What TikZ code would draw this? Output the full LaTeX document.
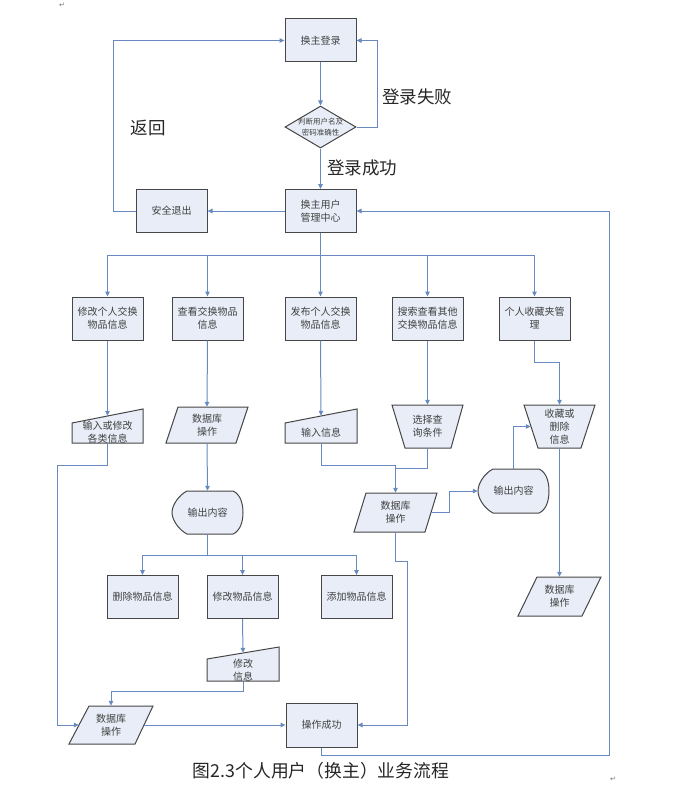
\documentclass[tikz,border=0pt]{standalone}
\usepackage{fontspec}
\newfontfamily\cjk{Noto Sans CJK SC}
\newfontfamily\symfont{DejaVu Sans}
\usetikzlibrary{arrows.meta,calc,shapes.geometric}
\definecolor{boxfill}{RGB}{232,237,247}
\definecolor{boxline}{RGB}{70,70,70}
\definecolor{conn}{RGB}{104,138,192}
\definecolor{txt}{RGB}{65,65,65}
\begin{document}
\begin{tikzpicture}[x=1pt,y=-1pt,
  boxst/.style={draw=boxline, fill=boxfill, line width=1pt, minimum width=71pt, minimum height=43pt, inner sep=1pt, align=center, font=\cjk\fontsize{10}{13}\selectfont, text=txt},
  ghost/.style={inner sep=0pt, minimum width=#1},
  shapetext/.style={inner sep=0pt, align=center, font=\cjk\fontsize{10}{13}\selectfont, text=txt},
  outline/.style={draw=boxline, fill=boxfill, line width=1pt, line join=miter},
  link/.style={draw=conn, line width=1pt},
  arr/.style={link, -{Triangle[length=5pt,width=4.5pt]}},
  biglabel/.style={font=\cjk\fontsize{17.5}{20}\selectfont, text=black!85},
  pmark/.style={font=\symfont\fontsize{7}{8}\selectfont, text=black!55}
]
\useasboundingbox (0,0) rectangle (694,797);

% ---------- outlines of special shapes ----------
% manual inputs
\draw[outline] (72,423) -- (143,409) -- (143,443) -- (72,443) -- cycle;
\draw[outline] (285,423) -- (357,409) -- (357,443) -- (285,443) -- cycle;
\draw[outline] (207,659) -- (279,647) -- (279,681) -- (207,681) -- cycle;
% parallelograms
\draw[outline] (178,407) -- (248,407) -- (236,443) -- (166,443) -- cycle;
\draw[outline] (366,493) -- (437,493) -- (425,532) -- (354,532) -- cycle;
\draw[outline] (537,577) -- (601,577) -- (582,616) -- (518,616) -- cycle;
\draw[outline] (89,706) -- (153,706) -- (135,744) -- (69,744) -- cycle;
% manual operations (wide top)
\draw[outline] (392,405) -- (463,405) -- (451,448) -- (405,448) -- cycle;
\draw[outline] (524,405) -- (595,405) -- (581,448) -- (538,448) -- cycle;
% displays
\draw[outline] (187,491) -- (233,491) .. controls (240,494) and (243,503) .. (243,512.5)
   .. controls (243,522) and (240,531) .. (233,534) -- (187,534)
   .. controls (179,530) and (172,520) .. (172,512.5)
   .. controls (172,505) and (179,495) .. (187,491) -- cycle;
\draw[outline] (493,469) -- (539,469) .. controls (546,472) and (549,481) .. (549,491)
   .. controls (549,501) and (546,510) .. (539,513) -- (493,513)
   .. controls (485,509) and (478,499) .. (478,491)
   .. controls (478,483) and (485,473) .. (493,469) -- cycle;

% ---------- nodes ----------
\node[boxst] (login) at (320.5,40.5) {换主登录};
\node[diamond, draw=boxline, fill=boxfill, line width=1pt, aspect=1.69, minimum width=71pt, minimum height=42pt, inner sep=0pt,
      label={[align=center, font=\cjk\fontsize{7.5}{11}\selectfont, text=txt]center:判断用户名及\\密码准确性}] (judge) at (320.5,127) {};
\node[boxst] (mgr) at (320.5,211) {换主用户\\管理中心};
\node[boxst] (exit) at (171.5,211) {安全退出};

\node[boxst] (b1) at (107.5,318.5) {修改个人交换\\物品信息};
\node[boxst] (b2) at (207.5,318.5) {查看交换物品\\信息};
\node[boxst] (b3) at (320.5,318.5) {发布个人交换\\物品信息};
\node[boxst] (b4) at (427.5,318.5) {搜索查看其他\\交换物品信息};
\node[boxst] (b5) at (534.5,318.5) {个人收藏夹管\\理};

% manual input nodes (bounding boxes)
\node[ghost=71pt, minimum height=34pt] (inA) at (107.5,426) {};
\node[shapetext] at (107.5,432.5) {输入或修改\\各类信息};
\node[ghost=72pt, minimum height=34pt] (inB) at (321,426) {};
\node[shapetext] at (321,433) {输入信息};
\node[ghost=72pt, minimum height=34pt] (inC) at (243,664) {};
\node[shapetext] at (243,670) {修改\\信息};

% parallelograms
\node[ghost=82pt, minimum height=36pt, shapetext] (dbA) at (207,425) {数据库\\操作};
\node[ghost=83pt, minimum height=39pt, shapetext] (dbB) at (395.5,512.5) {数据库\\操作};
\node[ghost=83pt, minimum height=39pt, shapetext] (dbC) at (559.5,596.5) {数据库\\操作};
\node[ghost=84pt, minimum height=38pt, shapetext] (dbD) at (111,725) {数据库\\操作};

% manual operations
\node[ghost=71pt, minimum height=43pt, shapetext] (sel) at (427.5,426.5) {选择查\\询条件};
\node[ghost=71pt, minimum height=43pt, shapetext] (fav) at (559.5,426.5) {收藏或\\删除\\信息};

% displays
\node[ghost=71pt, minimum height=43pt, shapetext] (outA) at (207.5,512.5) {输出内容};
\node[ghost=71pt, minimum height=44pt, shapetext] (outB) at (513.5,491) {输出内容};

\node[boxst] (del) at (142.5,597) {删除物品信息};
\node[boxst] (mod) at (242.5,597) {修改物品信息};
\node[boxst] (add) at (356.5,597) {添加物品信息};
\node[boxst, minimum height=44pt] (ok) at (321.5,725) {操作成功};

% ---------- labels ----------
\node[biglabel] (fail) at (417,97) {登录失败};
\node[biglabel] (succ) at (362,168) {登录成功};
\node[biglabel] (back) at (148,128) {返回};
\node[biglabel, font=\cjk\fontsize{17.8}{20}\selectfont] (cap) at (321,771) {图2.3个人用户（换主）业务流程};
\node[pmark] (m1) at (62,5) {↵};
\node[pmark] (m2) at (613,779) {↵};

% ---------- connectors ----------
\draw[arr] (login.south) -- (judge.north);
\draw[arr] (judge.east) -- ++(21,0) |- (login.east);
\draw[arr] (judge.south) -- (mgr.north);
\draw[arr] (mgr.west) -- (exit.east);
\draw[arr] (exit.west) -- ++(-22,0) |- (login.west);
\coordinate (rr) at (609,755);
\draw[arr] (ok.south) |- (rr) |- (mgr.east);

\coordinate (bus) at (320.5,255);
\draw[arr] (mgr.south) -- (b3.north);
\draw[arr] (bus) -| (b1.north);
\draw[arr] (bus) -| (b2.north);
\draw[arr] (bus) -| (b4.north);
\draw[arr] (bus) -| (b5.north);

\draw[arr] (b1.south) -- ($(inA.north)+(0,7)$);
\draw[arr] (inA.south) -- ++(0,22) -- ++(-50.5,0) |- ($(dbD.west)+(10,0)$);
\draw[arr] (b2.south) -- (dbA.north);
\draw[arr] (dbA.south) -- (outA.north);
\draw[arr] (outA.south) -- ++(0,21) -| (del.north);
\draw[arr] (outA.south) -- ++(0,21) -| (mod.north);
\draw[arr] (outA.south) -- ++(0,21) -| (add.north);
\draw[arr] (mod.south) -- ($(inC.north)+(0,6)$);
\draw[arr] (inC.south) -- ++(0,10) -| (dbD.north);
\draw[arr] ($(dbD.east)+(-9,0)$) -- (ok.west);

\draw[arr] (b3.south) -- ($(inB.north)+(0,7)$);
\draw[arr] (inB.south) -- ++(0,22) -| (dbB.north);
\draw[link] (sel.south) |- ($(dbB.north)+(0,-24)$);
\draw[arr] (b4.south) -- (sel.north);
\draw[arr] (b5.south) -- ++(0,22) -| (fav.north);
\draw[arr] ($(dbB.east)+(-6,0)$) -- ++(18,0) |- (outB.west);
\draw[arr] (outB.north) |- ($(fav.west)+(7,0)$);
\draw[arr] (fav.south) -- (dbC.north);
\draw[arr] (dbB.south) -- ++(0,29) -- ++(11.5,0) |- (ok.east);
\end{tikzpicture}
\end{document}
